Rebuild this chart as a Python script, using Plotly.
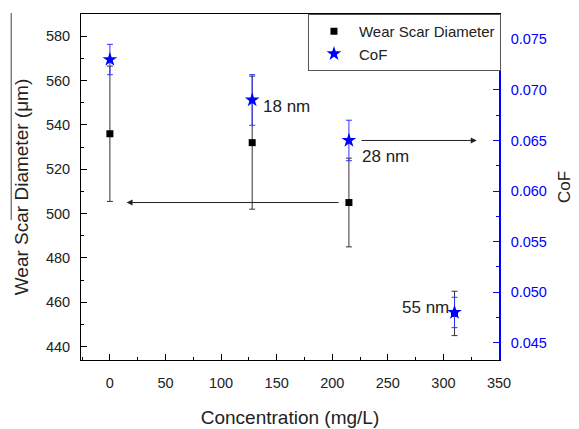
import plotly.graph_objects as go

conc = [0, 128, 215, 310]
wsd = [536, 532, 505, 455]
wsd_err = [30.5, 30, 20, 10]
cof = [0.073, 0.069, 0.065, 0.048]
cof_err = [0.0015, 0.0025, 0.002, 0.0015]
labels = ["18 nm", "28 nm", "55 nm"]

FONT = "Liberation Sans, Arial, sans-serif"
TXT = "#222222"

fig = go.Figure()
fig.add_trace(go.Scatter(
    x=conc, y=wsd, mode="markers", name="Wear Scar Diameter",
    marker=dict(symbol="square", size=7, color="black"),
    error_y=dict(type="data", array=wsd_err, visible=True, color="#333333", thickness=1, width=3),
    yaxis="y"))
fig.add_trace(go.Scatter(
    x=conc, y=cof, mode="markers", name="CoF",
    marker=dict(symbol="star", size=11, color="#0000ff", line=dict(width=0)),
    error_y=dict(type="data", array=cof_err, visible=True, color="#3333ff", thickness=1, width=3),
    yaxis="y2"))

# labels
fig.add_annotation(x=135.5, y=0.0684, yref="y2", text=labels[0], showarrow=False,
                   xanchor="left", yanchor="middle", font=dict(family=FONT, size=17, color=TXT))
fig.add_annotation(x=225, y=0.0634, yref="y2", text=labels[1], showarrow=False,
                   xanchor="left", yanchor="middle", font=dict(family=FONT, size=17, color=TXT))
fig.add_annotation(x=307, y=0.0485, yref="y2", text=labels[2], showarrow=False,
                   xanchor="right", yanchor="middle", font=dict(family=FONT, size=17, color=TXT))

# arrows
fig.add_annotation(x=15, y=wsd[2], ax=207, ay=wsd[2], xref="x", yref="y", axref="x", ayref="y",
                   text="", showarrow=True, arrowhead=2, arrowsize=1.2, arrowwidth=1, arrowcolor="#222222")
fig.add_annotation(x=330, y=cof[2], ax=225, ay=cof[2], xref="x", yref="y2", axref="x", ayref="y2",
                   text="", showarrow=True, arrowhead=2, arrowsize=1.2, arrowwidth=1, arrowcolor="#222222")

# stray line left of title
fig.add_shape(type="line", xref="paper", yref="paper", x0=-0.167, x1=-0.167, y0=1.003, y1=0.405,
              line=dict(color="#444444", width=1))

fig.update_layout(
    width=579, height=429,
    margin=dict(l=81, r=80, t=14, b=69, autoexpand=False),
    plot_bgcolor="white", paper_bgcolor="white",
    font=dict(family=FONT, size=14.5, color=TXT),
    showlegend=True,
    legend=dict(x=0.543, y=1, xanchor="left", yanchor="top", bordercolor="#555555", borderwidth=1,
                bgcolor="white", font=dict(size=15), tracegroupgap=0, itemwidth=40),
    xaxis=dict(range=[-26, 350], tickvals=[0, 50, 100, 150, 200, 250, 300, 350], automargin=False,
               ticks="inside", ticklen=6, tickcolor="black", showline=True, linecolor="black",
               mirror=True, showgrid=False, zeroline=False, ticklabelstandoff=10,
               minor=dict(ticks="inside", ticklen=3, dtick=25, tick0=0, tickcolor="black"),
               title=dict(text="Concentration (mg/L)", font=dict(size=19), standoff=20)),
    yaxis=dict(range=[434, 590], tickvals=[440, 460, 480, 500, 520, 540, 560, 580], automargin=False,
               ticks="inside", ticklen=6, tickcolor="black", showline=True, linecolor="black",
               showgrid=False, zeroline=False, ticklabelstandoff=7,
               minor=dict(ticks="inside", ticklen=3, dtick=10, tick0=0, tickcolor="black"),
               title=dict(text="Wear Scar Diameter (\u03bcm)", font=dict(size=19), standoff=12)),
    yaxis2=dict(range=[0.0433, 0.0775], overlaying="y", side="right", automargin=False,
                tickvals=[0.045, 0.05, 0.055, 0.06, 0.065, 0.07, 0.075],
                ticktext=["0.045", "0.050", "0.055", "0.060", "0.065", "0.070", "0.075"],
                ticks="inside", ticklen=6, tickcolor="#0000ff", showline=True, linecolor="#0000ff",
                linewidth=1.5, showgrid=False, zeroline=False, ticklabelstandoff=7,
                tickfont=dict(color="#0000ff", size=14.5),
                minor=dict(ticks="inside", ticklen=3, dtick=0.0025, tick0=0, tickcolor="#0000ff"),
                title=dict(text="CoF", font=dict(size=17, color=TXT), standoff=12)),
)

fig.write_html("out.html")
